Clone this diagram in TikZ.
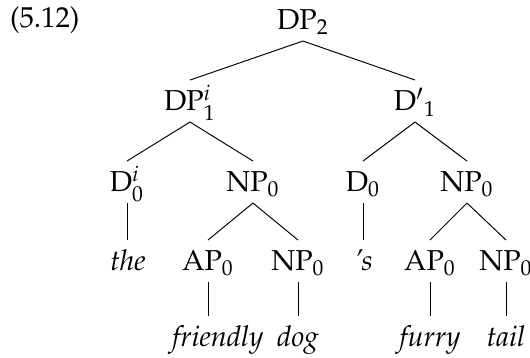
\documentclass[tikz,border=0pt,12pt]{standalone}
\usepackage[T1]{fontenc}
\usepackage{mathpazo}
\usepackage{tikz}
\usetikzlibrary{calc}
\tikzset{
	syntax tree/.style={
		x=0.4167pt, y=0.4167pt,
		every node/.style={inner sep=0pt, outer sep=0pt},
		cat/.style={anchor=base, text height=12.9pt, text depth=4.6pt},
		word/.style={cat, font=\itshape},
		branch/.style={draw, thin}
		}
}

\begin{document}
\begin{tikzpicture}[syntax tree]
    \useasboundingbox (0,0) rectangle (530,-358);
    \node[anchor=base west] (exno) at (10,-28) {(5.12)};
    % categories, one row per level
    \node[cat] (DP) at (303,-30) {DP$_2$};
    \node[cat] (DPi) at (190,-111) {DP$^i_1$};
    \node[cat] (Dbar) at (415,-111) {D$'{}_1$};
    \node[cat] (Di) at (127,-192) {D$^i_0$};
    \node[cat] (NPa) at (253,-192) {NP$_0$};
    \node[cat] (D) at (363,-192) {D$_0$};
    \node[cat] (NPb) at (467,-192) {NP$_0$};
    \node[word] (the) at (128,-271) {the};
    \node[cat] (APa) at (208,-271) {AP$_0$};
    \node[cat] (NPc) at (298,-271) {NP$_0$};
    \node[word] (poss) at (364,-271) {'s};
    \node[cat] (APb) at (430,-271) {AP$_0$};
    \node[cat] (NPd) at (506,-271) {NP$_0$};
    \node[word] (friendly) at (218,-347) {friendly};
    \node[word] (dog) at (298,-347) {dog};
    \node[word] (furry) at (430,-347) {furry};
    \node[word] (tail) at (506,-347) {tail};
    % branches
    \draw[branch] (DP.south) -- (DPi.north);
    \draw[branch] (DP.south) -- (Dbar.north);
    \draw[branch] (DPi.south) -- (Di.north);
    \draw[branch] (DPi.south) -- (NPa.north);
    \draw[branch] (Dbar.south) -- (D.north);
    \draw[branch] (Dbar.south) -- (NPb.north);
    \draw[branch] (Di.south) -- (Di.south |- the.north);
    \draw[branch] (NPa.south) -- (APa.north);
    \draw[branch] (NPa.south) -- (NPc.north);
    \draw[branch] (D.south) -- (D.south |- poss.north);
    \draw[branch] (NPb.south) -- (APb.north);
    \draw[branch] (NPb.south) -- (NPd.north);
    \draw[branch] (APa.south) -- (APa.south |- friendly.north);
    \draw[branch] (NPc.south) -- (dog.north);
    \draw[branch] (APb.south) -- (furry.north);
    \draw[branch] (NPd.south) -- (tail.north);
\end{tikzpicture}
\end{document}
